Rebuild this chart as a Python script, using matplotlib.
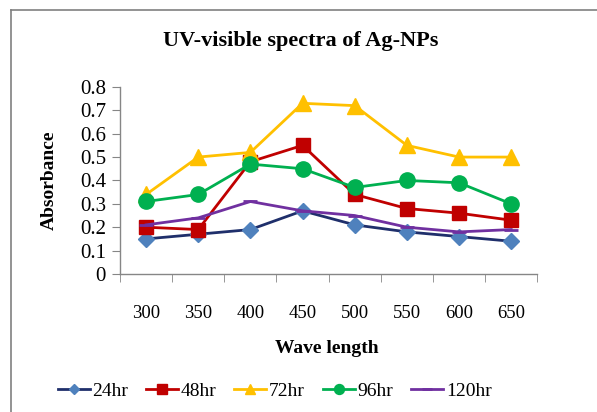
import matplotlib
matplotlib.use("Agg")
import matplotlib.pyplot as plt
from matplotlib.lines import Line2D

wavelengths = ["300", "350", "400", "450", "500", "550", "600", "650"]
s24 = [0.15, 0.17, 0.19, 0.27, 0.21, 0.18, 0.16, 0.14]
s48 = [0.20, 0.19, 0.48, 0.55, 0.34, 0.28, 0.26, 0.23]
s72 = [0.34, 0.50, 0.52, 0.73, 0.72, 0.55, 0.50, 0.50]
s96 = [0.31, 0.34, 0.47, 0.45, 0.37, 0.40, 0.39, 0.30]
s120 = [0.21, 0.24, 0.31, 0.27, 0.25, 0.20, 0.18, 0.19]
yticks = [0, 0.1, 0.2, 0.3, 0.4, 0.5, 0.6, 0.7, 0.8]

plt.rcParams['font.family'] = ['Liberation Serif', 'DejaVu Serif']

fig = plt.figure(figsize=(5.97, 4.12), dpi=100)
ax = fig.add_axes([0.201, 0.335, 0.699, 0.454])
x = list(range(len(wavelengths)))

ax.plot(x, s24, color='#1F2F6B', lw=2, marker='D', ms=8, mfc='#4F81BD', mec='#4F81BD', label='24hr')
ax.plot(x, s48, color='#C00000', lw=2, marker='s', ms=10, mfc='#C00000', mec='#C00000', label='48hr')
ax.plot(x, s72, color='#FFC000', lw=2, marker='^', ms=11, mfc='#FFC000', mec='#FFC000', label='72hr')
ax.plot(x, s96, color='#00B050', lw=2, marker='o', ms=11, mfc='#00B050', mec='#00B050', label='96hr')
ax.plot(x, s120, color='#7030A0', lw=2, marker='_', ms=10, mew=2, label='120hr')

ax.set_xlim(-0.5, len(wavelengths) - 0.5)
ax.set_ylim(0, 0.8)
ax.set_yticks(yticks)
ax.set_yticklabels([("%g" % v) for v in yticks], fontsize=15)
ax.set_xticks(x)
ax.set_xticklabels(wavelengths, fontsize=13.5)
ax.set_xticks([i - 0.5 for i in range(len(wavelengths) + 1)], minor=True)
ax.tick_params(axis='x', which='major', length=0, pad=22)
ax.tick_params(axis='x', which='minor', length=6, color='#868686', direction='out')
ax.tick_params(axis='y', length=6, color='#868686', direction='out', pad=4)
for s in ['top', 'right']:
    ax.spines[s].set_visible(False)
for s in ['left', 'bottom']:
    ax.spines[s].set_color('#868686')
    ax.spines[s].set_linewidth(1)

fig.text(0.082, 0.563, 'Absorbance', rotation=90, ha='center', va='center', fontsize=14, fontweight='bold')
fig.text(0.503, 0.900, 'UV-visible spectra of Ag-NPs', ha='center', va='center', fontsize=16, fontweight='bold')
fig.text(0.548, 0.155, 'Wave length', ha='center', va='center', fontsize=14, fontweight='bold')

leg = fig.legend(loc='center', bbox_to_anchor=(0.46, 0.051), ncol=5, frameon=False,
                 fontsize=14, handlelength=1.65, handletextpad=0.15, columnspacing=0.9, markerscale=0.65)

fig.add_artist(Line2D([0.018, 0.018], [0.0, 0.975], color='#808080', lw=1.2, transform=fig.transFigure))
fig.add_artist(Line2D([0.018, 1.0], [0.975, 0.975], color='#808080', lw=1.2, transform=fig.transFigure))

fig.savefig('out.png', dpi=100)
